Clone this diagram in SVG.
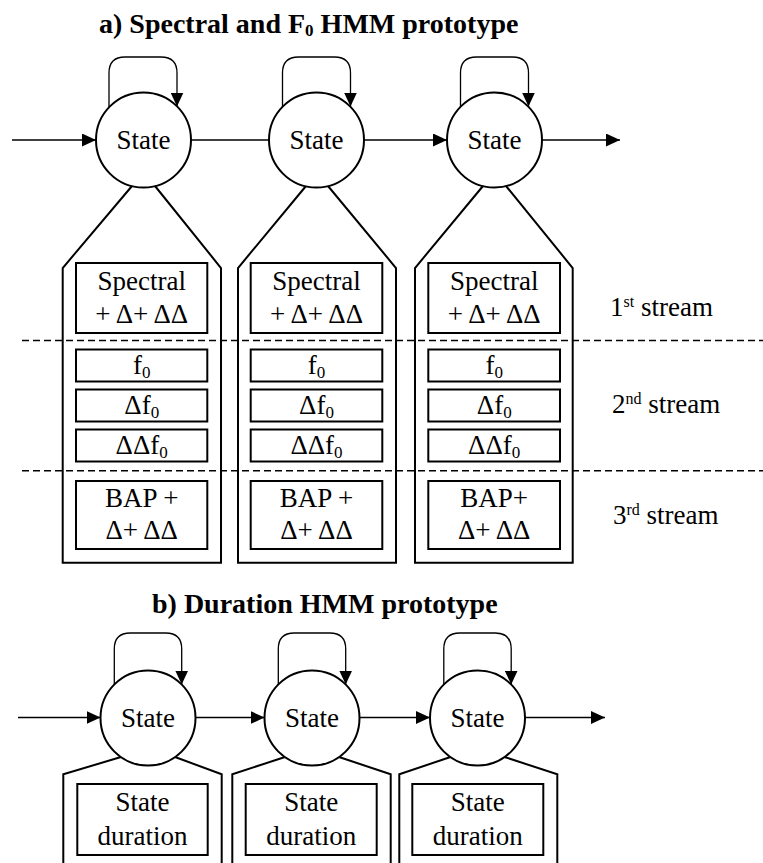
<svg xmlns="http://www.w3.org/2000/svg" width="763" height="863" viewBox="0 0 763 863">
  <style>
    text { font-family: "Liberation Serif", "Times New Roman", serif; fill: #000; }
    .title { font-size: 28px; font-weight: bold; }
    .lbl { font-size: 27px; text-anchor: middle; }
    .stream { font-size: 27px; }
    .sub { font-size: 17px; }
    .sup { font-size: 16px; }
    .state { fill: #fff; stroke: #000; stroke-width: 2; }
    .shell { fill: none; stroke: #000; stroke-width: 2; }
    .box { fill: #fff; stroke: #000; stroke-width: 2; }
    .edge { fill: none; stroke: #000; stroke-width: 1.3; }
    .arrow { marker-end: url(#head); }
    .sep { stroke: #000; stroke-width: 1.5; stroke-dasharray: 7 4; }
  </style>
  <defs>
    <marker id="head" markerUnits="userSpaceOnUse" markerWidth="15" markerHeight="13" refX="14" refY="6.5" orient="auto">
      <path d="M0,0 L14,6.5 L0,13 z" fill="#000"/>
    </marker>
  </defs>

  <rect width="763" height="863" fill="#fff"/>

  <!-- Section a: spectral / F0 prototype -->
  <text class="title" x="99" y="33">a) Spectral and F<tspan class="sub" dy="3">0</tspan><tspan dy="-3"> HMM prototype</tspan></text>

  <!-- stream separators -->
  <g id="separators">
    <line class="sep" x1="22" y1="340.5" x2="763" y2="340.5"/>
    <line class="sep" x1="22" y1="470.7" x2="763" y2="470.7"/>
  </g>

  <g id="a-state1">
    <path class="shell" d="M132,186 L62.7,268 L62.7,562.7 L221,562.7 L221,268 L155,186"/>
    <rect class="box" x="76" y="263" width="131.3" height="70"/>
    <text class="lbl" x="141.7" y="290">Spectral</text>
    <text class="lbl" x="141.7" y="323">+ Δ+ ΔΔ</text>
    <rect class="box" x="76" y="349.5" width="131.3" height="32"/>
    <text class="lbl" x="141.7" y="374">f<tspan class="sub" dy="4">0</tspan></text>
    <rect class="box" x="76" y="389.5" width="131.3" height="32"/>
    <text class="lbl" x="141.7" y="414">Δf<tspan class="sub" dy="4">0</tspan></text>
    <rect class="box" x="76" y="429.5" width="131.3" height="32"/>
    <text class="lbl" x="141.7" y="454">ΔΔf<tspan class="sub" dy="4">0</tspan></text>
    <rect class="box" x="76" y="481" width="131.3" height="68"/>
    <text class="lbl" x="141.7" y="507">BAP +</text>
    <text class="lbl" x="141.7" y="539">Δ+ ΔΔ</text>
    <circle class="state" cx="143.5" cy="140" r="47.5"/>
    <text class="lbl" x="143.5" y="149">State</text>
  </g>

  <g id="a-state2">
    <path class="shell" d="M306,186 L238,268 L238,562.7 L396,562.7 L396,268 L328,186"/>
    <rect class="box" x="250.7" y="263" width="131.6" height="70"/>
    <text class="lbl" x="316.5" y="290">Spectral</text>
    <text class="lbl" x="316.5" y="323">+ Δ+ ΔΔ</text>
    <rect class="box" x="250.7" y="349.5" width="131.6" height="32"/>
    <text class="lbl" x="316.5" y="374">f<tspan class="sub" dy="4">0</tspan></text>
    <rect class="box" x="250.7" y="389.5" width="131.6" height="32"/>
    <text class="lbl" x="316.5" y="414">Δf<tspan class="sub" dy="4">0</tspan></text>
    <rect class="box" x="250.7" y="429.5" width="131.6" height="32"/>
    <text class="lbl" x="316.5" y="454">ΔΔf<tspan class="sub" dy="4">0</tspan></text>
    <rect class="box" x="250.7" y="481" width="131.6" height="68"/>
    <text class="lbl" x="316.5" y="507">BAP +</text>
    <text class="lbl" x="316.5" y="539">Δ+ ΔΔ</text>
    <circle class="state" cx="316.5" cy="140" r="47.5"/>
    <text class="lbl" x="316.5" y="149">State</text>
  </g>

  <g id="a-state3">
    <path class="shell" d="M483,186 L415,268 L415,562.7 L572.7,562.7 L572.7,268 L506,186"/>
    <rect class="box" x="428.3" y="263" width="131.7" height="70"/>
    <text class="lbl" x="494.2" y="290">Spectral</text>
    <text class="lbl" x="494.2" y="323">+ Δ+ ΔΔ</text>
    <rect class="box" x="428.3" y="349.5" width="131.7" height="32"/>
    <text class="lbl" x="494.2" y="374">f<tspan class="sub" dy="4">0</tspan></text>
    <rect class="box" x="428.3" y="389.5" width="131.7" height="32"/>
    <text class="lbl" x="494.2" y="414">Δf<tspan class="sub" dy="4">0</tspan></text>
    <rect class="box" x="428.3" y="429.5" width="131.7" height="32"/>
    <text class="lbl" x="494.2" y="454">ΔΔf<tspan class="sub" dy="4">0</tspan></text>
    <rect class="box" x="428.3" y="481" width="131.7" height="68"/>
    <text class="lbl" x="494.2" y="507">BAP+</text>
    <text class="lbl" x="494.2" y="539">Δ+ ΔΔ</text>
    <circle class="state" cx="494.5" cy="140" r="47.5"/>
    <text class="lbl" x="494.5" y="149">State</text>
  </g>

  <!-- stream labels -->
  <g id="stream-labels">
    <text class="stream" x="610" y="316">1<tspan class="sup" dy="-9">st</tspan><tspan dy="9"> stream</tspan></text>
    <text class="stream" x="612" y="413">2<tspan class="sup" dy="-9">nd</tspan><tspan dy="9"> stream</tspan></text>
    <text class="stream" x="613" y="524">3<tspan class="sup" dy="-9">rd</tspan><tspan dy="9"> stream</tspan></text>
  </g>

  <!-- Section b: duration prototype -->
  <text class="title" x="152" y="613">b) Duration HMM prototype</text>

  <g id="b-state1">
    <path class="shell" d="M121,757 L63.3,774.3 L63.3,870 M221.7,870 L221.7,774.3 L175,757"/>
    <rect class="box" x="77.3" y="784" width="130.4" height="71"/>
    <text class="lbl" x="142.5" y="811">State</text>
    <text class="lbl" x="142.5" y="845">duration</text>
    <circle class="state" cx="148" cy="718" r="47.5"/>
    <text class="lbl" x="148" y="727">State</text>
  </g>

  <g id="b-state2">
    <path class="shell" d="M285,757 L232.3,774.3 L232.3,870 M390.7,870 L390.7,774.3 L339,757"/>
    <rect class="box" x="245.7" y="784" width="131" height="71"/>
    <text class="lbl" x="311.2" y="811">State</text>
    <text class="lbl" x="311.2" y="845">duration</text>
    <circle class="state" cx="312" cy="718" r="47.5"/>
    <text class="lbl" x="312" y="727">State</text>
  </g>

  <g id="b-state3">
    <path class="shell" d="M450.5,757 L399.3,774.3 L399.3,870 M557.3,870 L557.3,774.3 L504.5,757"/>
    <rect class="box" x="412.3" y="784" width="131" height="71"/>
    <text class="lbl" x="477.8" y="811">State</text>
    <text class="lbl" x="477.8" y="845">duration</text>
    <circle class="state" cx="477.5" cy="718" r="47.5"/>
    <text class="lbl" x="477.5" y="727">State</text>
  </g>

  <!-- transitions -->
  <g id="connectors">
    <!-- section a -->
    <line class="edge arrow" x1="12" y1="140" x2="96" y2="140"/>
    <line class="edge" x1="191" y1="140" x2="269" y2="140"/>
    <line class="edge arrow" x1="364" y1="140" x2="447" y2="140"/>
    <line class="edge arrow" x1="542" y1="140" x2="620" y2="140"/>
    <path class="edge arrow" d="M109,107 L109,73 Q109,57 125,57 L161,57 Q177,57 177,73 L177,106.5"/>
    <path class="edge arrow" d="M282.5,107 L282.5,73 Q282.5,57 298.5,57 L334.5,57 Q350.5,57 350.5,73 L350.5,106.5"/>
    <path class="edge arrow" d="M460.5,107 L460.5,73 Q460.5,57 476.5,57 L512.5,57 Q528.5,57 528.5,73 L528.5,106.5"/>
    <!-- section b -->
    <line class="edge arrow" x1="18" y1="717.5" x2="100.5" y2="717.5"/>
    <line class="edge arrow" x1="195.5" y1="717.5" x2="264.5" y2="717.5"/>
    <line class="edge arrow" x1="359.5" y1="717.5" x2="430" y2="717.5"/>
    <line class="edge arrow" x1="525" y1="717.5" x2="605" y2="717.5"/>
    <path class="edge arrow" d="M114.3,685 L114.3,649 Q114.3,633 130.3,633 L165.7,633 Q181.7,633 181.7,649 L181.7,684.5"/>
    <path class="edge arrow" d="M278.3,685 L278.3,649 Q278.3,633 294.3,633 L329.7,633 Q345.7,633 345.7,649 L345.7,684.5"/>
    <path class="edge arrow" d="M443.8,685 L443.8,649 Q443.8,633 459.8,633 L495.2,633 Q511.2,633 511.2,649 L511.2,684.5"/>
  </g>
</svg>
